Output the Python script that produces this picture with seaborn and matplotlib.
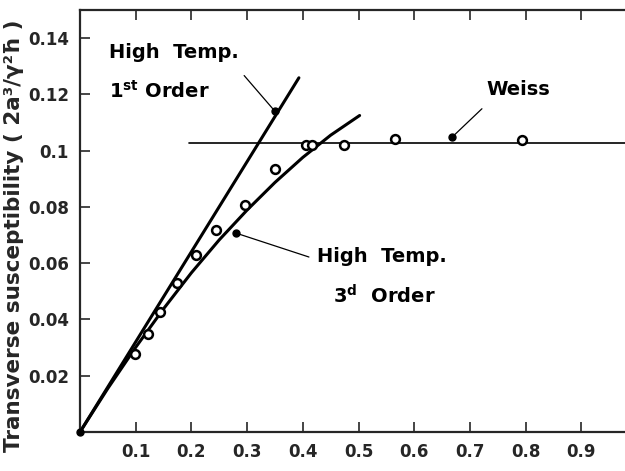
import matplotlib
matplotlib.use("Agg")
import matplotlib.pyplot as plt
import seaborn as sns
import numpy as np
import pandas as pd

# ---- data ----
# measured points (open circles)
meas_x = [0.098, 0.122, 0.143, 0.174, 0.209, 0.244, 0.296, 0.350, 0.405, 0.417, 0.474, 0.566, 0.793]
meas_y = [0.0279, 0.0350, 0.0427, 0.0528, 0.0628, 0.0717, 0.0806, 0.0936, 0.1019, 0.1019, 0.1019, 0.1043, 0.1039]

# high temperature 1st order (straight line)
first_x = [0.0, 0.393]
first_y = [0.0, 0.1259]

# high temperature 3rd order (curve)
third_x = [0.0, 0.05, 0.10, 0.15, 0.20, 0.25, 0.30, 0.35, 0.40, 0.45, 0.502]
third_y = [0.0, 0.0155, 0.0301, 0.0438, 0.0566, 0.0683, 0.0789, 0.0887, 0.0976, 0.1055, 0.1125]

# Weiss (mean field) level
weiss_x = [0.196, 1.0]
weiss_y = [0.1028, 0.1028]

xticks = [0.1, 0.2, 0.3, 0.4, 0.5, 0.6, 0.7, 0.8, 0.9]
xticklabels = ["0.1", "0.2", "0.3", "0.4", "0.5", "0.6", "0.7", "0.8", "0.9"]
yticks = [0.02, 0.04, 0.06, 0.08, 0.10, 0.12, 0.14]
yticklabels = ["0.02", "0.04", "0.06", "0.08", "0.1", "0.12", "0.14"]

ylabel = "Transverse susceptibility ( 2a³/γ²ħ )"

# ---- figure ----
sns.set_style("ticks")
plt.rcParams["font.family"] = ["DejaVu Sans"]
plt.rcParams["mathtext.default"] = "bf"

fig = plt.figure(figsize=(6.25, 4.71), dpi=100)
ax = fig.add_axes([80 / 625, 1 - 432 / 471, 557 / 625, 422 / 471])

sns.lineplot(x=first_x, y=first_y, ax=ax, color="black", lw=2.2, sort=False)
sns.lineplot(x=third_x, y=third_y, ax=ax, color="black", lw=2.2, sort=False)
sns.lineplot(x=weiss_x, y=weiss_y, ax=ax, color="black", lw=1.2, sort=False)
sns.scatterplot(x=meas_x, y=meas_y, ax=ax, marker="o", s=40,
                facecolor="white", edgecolor="black", linewidth=1.8, zorder=5)

# origin dot
ax.plot([0], [0], "o", color="black", ms=5, clip_on=False, zorder=6)

# annotation pointers (filled dots with thin leader lines)
ann_kw = dict(arrowprops=dict(arrowstyle="-", color="black", lw=0.9, shrinkA=0, shrinkB=0))
ax.annotate("", xy=(0.350, 0.1140), xytext=(0.2947, 0.1267), **ann_kw)
ax.annotate("", xy=(0.280, 0.0707), xytext=(0.411, 0.0622), **ann_kw)
ax.annotate("", xy=(0.668, 0.1048), xytext=(0.7216, 0.1149), **ann_kw)
ax.plot([0.350, 0.280, 0.668], [0.1140, 0.0707, 0.1048], "o", color="black", ms=5, zorder=6)

txt_kw = dict(fontsize=14, fontweight="bold", color="black")
ax.text(0.052, 0.1349, "High  Temp.", va="center", ha="left", **txt_kw)
ax.text(0.052, 0.1211, r"1$^{\mathbf{st}}$ Order", va="center", ha="left", **txt_kw)
ax.text(0.787, 0.1218, "Weiss", va="center", ha="center", **txt_kw)
ax.text(0.426, 0.0625, "High  Temp.", va="center", ha="left", **txt_kw)
ax.text(0.455, 0.0483, r"3$^{\mathbf{d}}$  Order", va="center", ha="left", **txt_kw)

ax.set_xlim(0, 1.0)
ax.set_ylim(0, 0.15)
ax.set_xticks(xticks)
ax.set_xticklabels(xticklabels)
ax.set_yticks(yticks)
ax.set_yticklabels(yticklabels)
ax.tick_params(direction="in", top=True, right=True, length=7, width=1.2,
               labelsize=12, pad=8)
for lab in ax.get_xticklabels() + ax.get_yticklabels():
    lab.set_fontweight("bold")
for sp in ax.spines.values():
    sp.set_linewidth(1.6)
    sp.set_visible(True)
ax.set_xlabel("")
ax.set_ylabel("")

fig.text(0.022, 0.5, ylabel, rotation=90, va="center", ha="center",
         fontsize=15.5, fontweight="bold")

fig.savefig("out.png", dpi=100)
